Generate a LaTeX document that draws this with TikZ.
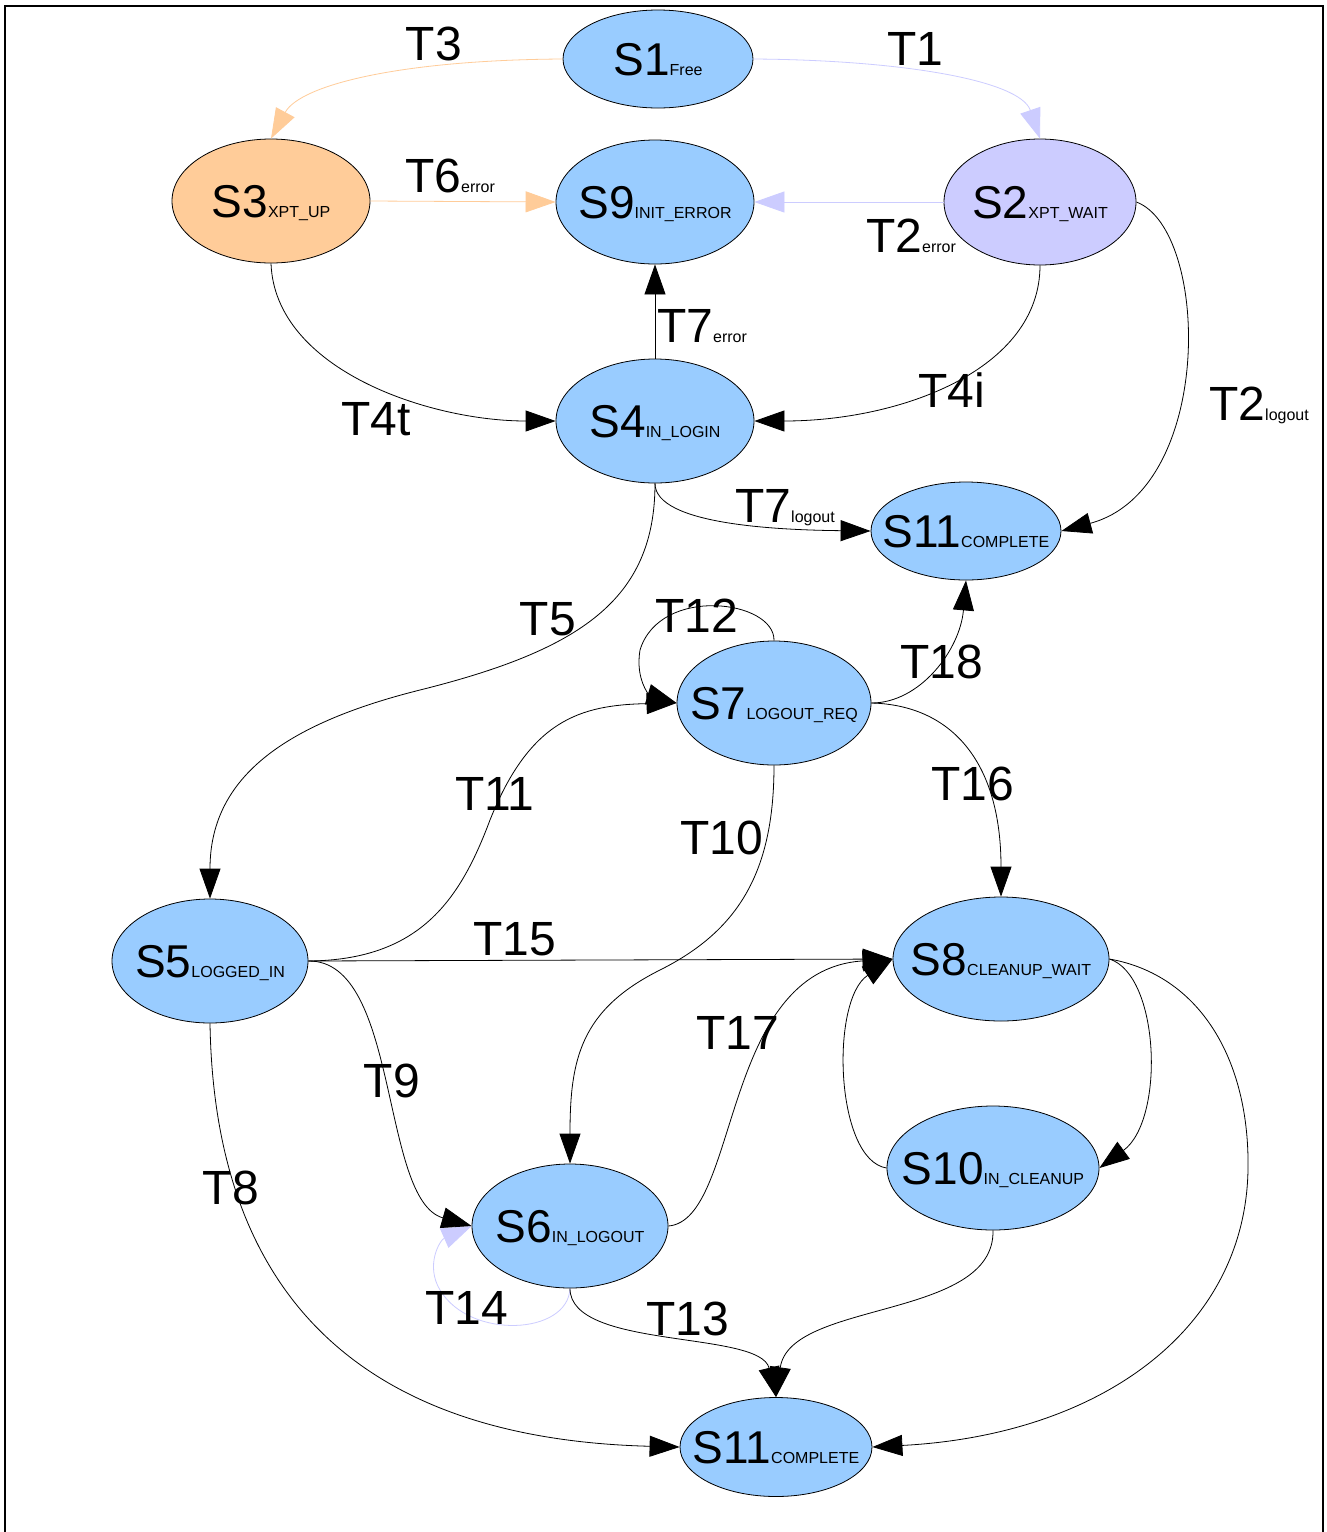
\documentclass[tikz,border=0pt]{standalone}
\usepackage{fontspec}
\setmainfont{Liberation Sans}
\usetikzlibrary{shapes.geometric,arrows.meta}
\definecolor{sblue}{HTML}{99CCFF}
\definecolor{sorange}{HTML}{FFCC99}
\definecolor{slav}{HTML}{CCCCFF}
\newcommand{\stname}[2]{\makebox[0pt][c]{\fontsize{46}{50}\selectfont #1{\fontsize{16}{18}\selectfont #2}}}
\newcommand{\tlab}[2]{{\fontsize{48}{52}\selectfont #1}{\fontsize{16}{18}\selectfont #2}}
\begin{document}
\begin{tikzpicture}[x=1pt,y=-1pt,
  state/.style={ellipse,draw=black,line width=0.8pt,fill=sblue,inner sep=0pt,text height=33pt,text depth=0pt},
  lab/.style={inner sep=0pt,text height=34pt,text depth=0pt},
  edge/.style={-{Triangle[length=30pt,width=21pt]},line width=0.8pt,draw=black},
  oedge/.style={edge,draw=sorange},
  ledge/.style={edge,draw=slav}]
\useasboundingbox (0,0) rectangle (1326,1532);
\fill[white] (0,0) rectangle (1326,1532);
\draw[line width=1.2pt] (5,1532) -- (5,6) -- (1323,6) -- (1323,1532);
% states
\node[state,minimum width=190pt,minimum height=98pt] (S1) at (658,59) {\stname{S1}{Free}};
\node[state,minimum width=198pt,minimum height=124pt] (S9) at (655,202) {\stname{S9}{INIT\_ERROR}};
\node[state,fill=sorange,minimum width=198pt,minimum height=124pt] (S3) at (271,201) {\stname{S3}{XPT\_UP}};
\node[state,fill=slav,minimum width=192pt,minimum height=126pt] (S2) at (1040,202) {\stname{S2}{XPT\_WAIT}};
\node[state,minimum width=198pt,minimum height=124pt] (S4) at (655,421) {\stname{S4}{IN\_LOGIN}};
\node[state,minimum width=190pt,minimum height=98pt] (S11a) at (966,531) {\stname{S11}{COMPLETE}};
\node[state,minimum width=194pt,minimum height=124pt] (S7) at (774,703) {\stname{S7}{LOGOUT\_REQ}};
\node[state,minimum width=196pt,minimum height=124pt] (S5) at (210,961) {\stname{S5}{LOGGED\_IN}};
\node[state,minimum width=216pt,minimum height=124pt] (S8) at (1001,959) {\stname{S8}{CLEANUP\_WAIT}};
\node[state,minimum width=212pt,minimum height=124pt] (S10) at (993,1168) {\stname{S10}{IN\_CLEANUP}};
\node[state,minimum width=196pt,minimum height=124pt] (S6) at (570,1226) {\stname{S6}{IN\_LOGOUT}};
\node[state,minimum width=192pt,minimum height=99pt] (S11b) at (776,1447) {\stname{S11}{COMPLETE}};
% edges
\draw[oedge] (S1.west) .. controls (400,60) and (300,85) .. (S3.north);
\draw[ledge] (S1.east) .. controls (900,60) and (1020,80) .. (S2.north);
\draw[oedge] (S3.east) -- (S9.west);
\draw[ledge] (S2.west) -- (S9.east);
\draw[edge] (S4.north) -- (S9.south);
\draw[edge] (S3.south) .. controls (275,370) and (430,421) .. (S4.west);
\draw[edge] (S2.south) .. controls (1040,370) and (900,421) .. (S4.east);
\draw[edge] (S2.east) .. controls (1210,230) and (1215,490) .. (S11a.east);
\draw[edge] (S4.south) .. controls (655,525) and (780,530) .. (S11a.west);
\draw[edge] (S4.south) .. controls (655,600) and (580,650) .. (420,690) .. controls (280,725) and (210,780) .. (S5.north);
\draw[edge] (S7.north) .. controls (775,600) and (660,585) .. (640,650) .. controls (635,680) and (650,695) .. (S7.west);
\draw[edge] (S7.east) .. controls (920,703) and (960,650) .. (S11a.south);
\draw[edge] (S7.east) .. controls (950,705) and (1001,760) .. (S8.north);
\draw[edge] (S5.east) .. controls (420,960) and (460,900) .. (490,820) .. controls (530,720) and (580,705) .. (S7.west);
\draw[edge] (S7.south) .. controls (774,870) and (740,930) .. (660,970) .. controls (580,1010) and (570,1060) .. (S6.north);
\draw[edge] (S5.east) -- (S8.west);
\draw[ledge] (S6.south) .. controls (568,1335) and (470,1340) .. (440,1290) .. controls (425,1265) and (440,1240) .. (S6.west);
\draw[edge] (S5.east) .. controls (400,960) and (380,1200) .. (S6.west);
\draw[edge] (S6.east) .. controls (740,1220) and (720,970) .. (S8.west);
\draw[edge] (S5.south) .. controls (215,1330) and (400,1440) .. (S11b.west);
\draw[edge] (S6.south) .. controls (570,1350) and (760,1330) .. (S11b.north);
\draw[edge] (S10.south) .. controls (995,1320) and (790,1300) .. (S11b.north);
\draw[edge] (S8.east) .. controls (1160,975) and (1165,1120) .. (S10.east);
\draw[edge] (S10.west) .. controls (835,1160) and (830,1000) .. (S8.west);
\draw[edge] (S8.east) .. controls (1200,975) and (1250,1060) .. (1248,1170) .. controls (1245,1330) and (1100,1435) .. (S11b.east);
% labels
\node[lab] (LT3) at (434,43) {\tlab{T3}{}};
\node[lab] (LT1) at (915,48) {\tlab{T1}{}};
\node[lab] (LT6) at (450,175) {\tlab{T6}{error}};
\node[lab] (LT2e) at (911,235) {\tlab{T2}{error}};
\node[lab] (LT7e) at (702,325) {\tlab{T7}{error}};
\node[lab] (LT4t) at (376,418) {\tlab{T4t}{}};
\node[lab] (LT4i) at (952,390) {\tlab{T4i}{}};
\node[lab] (LT2l) at (1259,403) {\tlab{T2}{logout}};
\node[lab] (LT7l) at (785,505) {\tlab{T7}{logout}};
\node[lab] (LT5) at (548,618) {\tlab{T5}{}};
\node[lab] (LT12) at (697,615) {\tlab{T12}{}};
\node[lab] (LT18) at (942,661) {\tlab{T18}{}};
\node[lab] (LT16) at (973,783) {\tlab{T16}{}};
\node[lab] (LT11) at (495,793) {\tlab{T11}{}};
\node[lab] (LT10) at (722,837) {\tlab{T10}{}};
\node[lab] (LT15) at (515,938) {\tlab{T15}{}};
\node[lab] (LT9) at (392,1080) {\tlab{T9}{}};
\node[lab] (LT17) at (738,1032) {\tlab{T17}{}};
\node[lab] (LT8) at (231,1187) {\tlab{T8}{}};
\node[lab] (LT14) at (467,1307) {\tlab{T14}{}};
\node[lab] (LT13) at (688,1318) {\tlab{T13}{}};
\end{tikzpicture}
\end{document}
